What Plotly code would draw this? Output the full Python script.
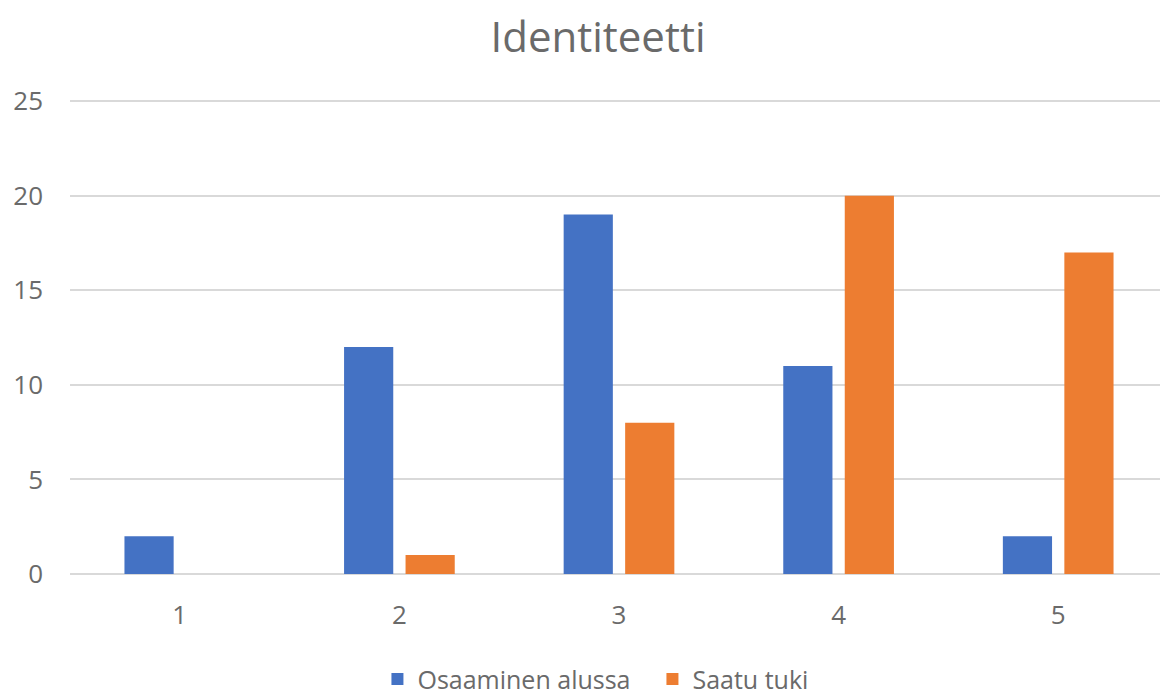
import plotly.graph_objects as go

categories = ["1", "2", "3", "4", "5"]
osaaminen_alussa = [2, 12, 19, 11, 2]
saatu_tuki = [0, 1, 8, 20, 17]
y_ticks = [0, 5, 10, 15, 20, 25]

TXT = "#6A6A6A"

fig = go.Figure()
fig.add_trace(go.Bar(x=categories, y=osaaminen_alussa, name="Osaaminen alussa",
                     marker=dict(color="#4472C4", line=dict(width=0))))
fig.add_trace(go.Bar(x=categories, y=saatu_tuki, name="Saatu tuki",
                     marker=dict(color="#ED7D31", line=dict(width=0))))

# page body has an 8px default margin, so the figure is sized to fill the rest
fig.update_layout(
    width=1160, height=688,
    paper_bgcolor="white", plot_bgcolor="white",
    font=dict(family="Open Sans, Noto Sans, sans-serif", color=TXT, size=26),
    title=dict(text="Identiteetti", x=0.5086, xanchor="center", y=0.958, yanchor="middle",
               font=dict(size=42, color=TXT)),
    barmode="group", bargap=0.44, bargroupgap=0.2,
    margin=dict(l=62, r=0, t=92, b=122, autoexpand=False),
    showlegend=True,
    legend=dict(orientation="h", x=0.28, xanchor="left", y=-0.222, yanchor="middle",
                font=dict(size=25, color=TXT), itemwidth=30, entrywidth=230),
    xaxis=dict(type="category", showgrid=False, showline=False, ticks="", automargin=False,
               tickfont=dict(size=26, color=TXT), ticklabelstandoff=23),
    yaxis=dict(range=[0, 25.06], tickvals=y_ticks, showgrid=True, gridcolor="#D9D9D9",
               gridwidth=1.5, zeroline=True, zerolinecolor="#D9D9D9", zerolinewidth=1.5,
               showline=False, ticks="", automargin=False,
               tickfont=dict(size=26, color=TXT), ticklabelstandoff=26),
)

fig.write_html("out.html")
